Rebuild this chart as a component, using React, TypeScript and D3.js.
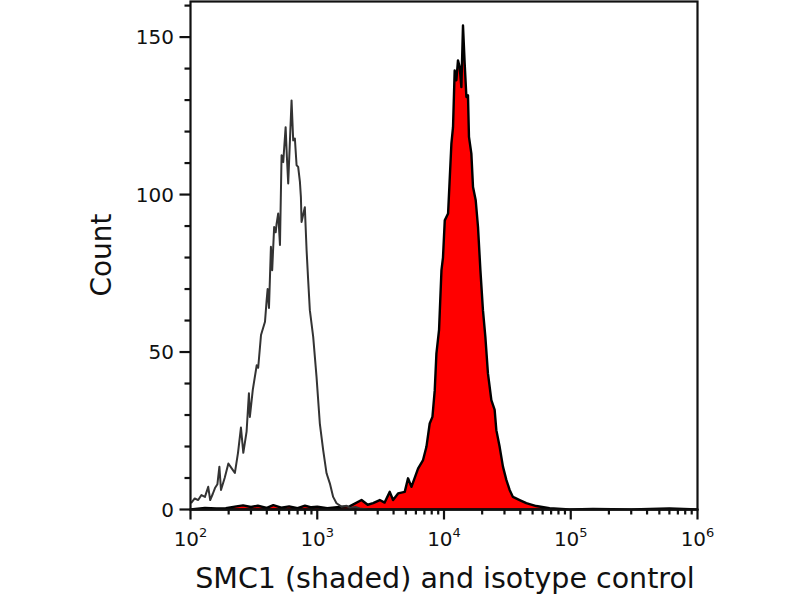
import * as d3 from 'd3';

// isotype control histogram (outline only)
const isoIntensity = [101, 108, 115, 122, 130, 138, 143, 150, 156, 163, 169, 174, 186, 199, 212, 224, 237, 250, 261, 277, 289, 294, 310, 333, 342, 360, 387, 398, 406, 416, 423, 431, 441, 457, 470, 478, 492, 508, 523, 539, 563, 576, 590, 610, 627, 646, 666, 687, 707, 730, 743, 752, 798, 824, 848, 874, 929, 987, 1048, 1113, 1184, 1257, 1335, 1419, 1553, 1700, 1806, 2000, 2167, 2500];
const isoCount = [2, 3.5, 3, 4.6, 4, 7.2, 3, 5, 6.8, 8, 13.6, 6.2, 10, 14.6, 13, 11.6, 18, 26, 18, 24.7, 36.9, 29.4, 38, 45.8, 45, 55.4, 59.6, 66, 70, 64, 73, 83.4, 76, 89.7, 88, 90.8, 94, 84, 112.5, 110.3, 121.4, 112, 103.5, 118, 129.9, 117.2, 117.8, 109.3, 108.8, 104, 99.2, 91.3, 96, 82.3, 72.8, 63.3, 54.8, 42.1, 27.3, 18.9, 11.5, 8.3, 4, 2, 0.9, 1.2, 0.5, 0.8, 0.3, 0];

// SMC1 stained histogram (shaded)
const smcIntensity = [100, 130, 160, 190, 230, 260, 300, 340, 400, 450, 520, 600, 700, 800, 900, 1000, 1200, 1500, 1800, 2235, 2500, 2760, 3115, 3400, 3733, 3964, 4342, 4901, 5202, 5535, 6240, 6834, 7267, 7713, 8105, 8453, 8714, 9140, 9550, 9817, 10140, 10770, 11440, 11780, 12140, 12520, 12890, 13300, 13710, 14120, 14560, 15020, 15460, 15740, 16440, 16940, 17790, 18550, 19370, 20290, 21200, 22220, 23640, 25100, 25880, 27480, 29180, 31040, 32950, 34990, 39520, 44600, 53450, 68070, 97800, 150000, 300000, 600000, 1000000];
const smcCount = [0, 0.5, 0.3, 0.4, 1, 1.3, 0.8, 1.2, 0.5, 1.4, 0.6, 1, 0.4, 1.2, 0.7, 0.9, 0.4, 0.8, 1, 3, 1.5, 2, 3, 2.2, 5.6, 3, 5.1, 5.6, 9.9, 7.2, 13, 15.7, 19.9, 27.3, 29.4, 37.9, 49.6, 57, 76, 80, 91.8, 94, 116.2, 121.4, 139.4, 136.3, 142.6, 140.5, 134.1, 153.7, 141.6, 131, 131.5, 118.3, 113, 102.4, 98.2, 89.7, 76, 63.3, 54.8, 43.2, 34.7, 31.6, 25.2, 19.9, 13.6, 9.4, 6.2, 4, 3, 2, 1.1, 0.4, 0, 0.2, 0, 0.3, 0];

const xMajor = [2, 3, 4, 5, 6];
const yMajor = [0, 50, 100, 150];
const yMinor = [10, 20, 30, 40, 60, 70, 80, 90, 110, 120, 130, 140, 160];

const FONT = '"DejaVu Sans", sans-serif';

export default function App() {
  const left = 190.5, right = 697.5, top = 1.5, bottom = 509.5;
  const x = d3.scaleLog().domain([1e2, 1e6]).range([left, right]);
  const y = d3.scaleLinear().domain([0, 161.3]).range([bottom, top]);

  const iso = isoIntensity.map((v, i) => [v, isoCount[i]] as [number, number]);
  const smc = smcIntensity.map((v, i) => [v, smcCount[i]] as [number, number]);

  const area = d3.area<[number, number]>().x((d) => x(d[0])).y0(y(0)).y1((d) => y(d[1]));
  const line = d3.line<[number, number]>().x((d) => x(d[0])).y((d) => y(d[1]));

  const xMinor: number[] = [];
  for (let e = 2; e < 6; e++) for (let m = 2; m <= 9; m++) xMinor.push(m * Math.pow(10, e));

  return (
    <div style={{ position: 'absolute', left: 0, top: 0 }}>
      <svg width={800} height={600} style={{ display: 'block', background: '#fff' }}>
        <path d={area(smc) ?? ''} fill="#ff0000" stroke="#000" strokeWidth={2.4} strokeLinejoin="round" />
        <path d={line(iso) ?? ''} fill="none" stroke="#333" strokeWidth={2} strokeLinejoin="round" />

        <rect x={left} y={top} width={right - left} height={bottom - top} fill="none" stroke="#111" strokeWidth={2.2} />

        {yMajor.map((t) => (
          <g key={'ym' + t}>
            <line x1={left - 11} x2={left} y1={y(t)} y2={y(t)} stroke="#111" strokeWidth={2.2} />
            <text x={174} y={y(t)} dy="0.36em" textAnchor="end" fontFamily={FONT} fontSize={20} fill="#111">{t}</text>
          </g>
        ))}
        {yMinor.map((t) => (
          <line key={'yn' + t} x1={left - 6} x2={left} y1={y(t)} y2={y(t)} stroke="#111" strokeWidth={2.2} />
        ))}

        {xMajor.map((e) => (
          <g key={'xm' + e}>
            <line x1={x(Math.pow(10, e))} x2={x(Math.pow(10, e))} y1={bottom} y2={bottom + 10} stroke="#111" strokeWidth={2.2} />
            <text x={x(Math.pow(10, e))} y={546} textAnchor="middle" fontFamily={FONT} fontSize={20} fill="#111">
              10<tspan fontSize={13} dy={-9}>{e}</tspan>
            </text>
          </g>
        ))}
        {xMinor.map((v) => (
          <line key={'xn' + v} x1={x(v)} x2={x(v)} y1={bottom} y2={bottom + 5} stroke="#111" strokeWidth={2.2} />
        ))}

        <text transform="translate(111,255) rotate(-90)" textAnchor="middle" fontFamily={FONT} fontSize={28} fill="#111">Count</text>
        <text x={445} y={588} textAnchor="middle" fontFamily={FONT} fontSize={28.5} fill="#111">SMC1 (shaded) and isotype control</text>
      </svg>
    </div>
  );
}
